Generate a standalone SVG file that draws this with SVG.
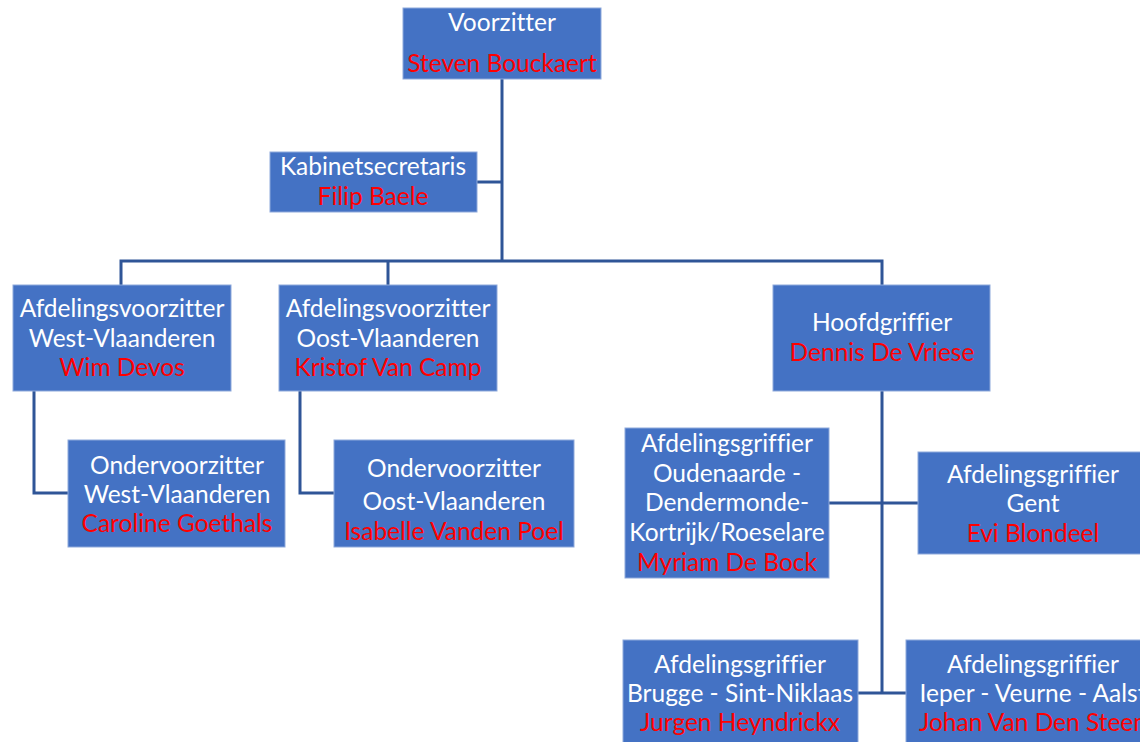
<svg xmlns="http://www.w3.org/2000/svg" width="1140" height="742" viewBox="0 0 1140 742">
<style>
.box{fill:#4472C4;stroke:#8EA9DB;stroke-width:1}
text{font-family:"Lato","Liberation Sans",sans-serif;font-size:24.5px;text-anchor:middle;font-variant-ligatures:none}
.t{fill:#FFFFFF}
.n{fill:#FF0000}
.c{fill:none;stroke:#2F5597;stroke-width:3}
</style>
<rect width="1140" height="742" fill="#FFFFFF"/>
<g id="connectors">
<path class="c" d="M502 79 V261"/>
<path class="c" d="M477 182 H502"/>
<path class="c" d="M121 285 V261 H882 V285"/>
<path class="c" d="M388 261 V285"/>
<path class="c" d="M34 391 V493 H68"/>
<path class="c" d="M300 391 V493 H334"/>
<path class="c" d="M882 391 V693"/>
<path class="c" d="M829 503 H918"/>
<path class="c" d="M858 693 H906"/>
</g>
<g id="voorzitter">
<rect class="box" x="403" y="8" width="198" height="71"/>
<text class="t" x="502" y="31">Voorzitter</text>
<text class="n" x="502" y="72">Steven Bouckaert</text>
</g>
<g id="kabinetsecretaris">
<rect class="box" x="270" y="152" width="207" height="60"/>
<text class="t" x="373" y="175">Kabinetsecretaris</text>
<text class="n" x="373" y="205">Filip Baele</text>
</g>
<g id="afd-west">
<rect class="box" x="13" y="285" width="218" height="106"/>
<text class="t" x="122" y="317">Afdelingsvoorzitter</text>
<text class="t" x="122" y="347">West-Vlaanderen</text>
<text class="n" x="122" y="376">Wim Devos</text>
</g>
<g id="afd-oost">
<rect class="box" x="279" y="285" width="218" height="106"/>
<text class="t" x="388" y="317">Afdelingsvoorzitter</text>
<text class="t" x="388" y="347">Oost-Vlaanderen</text>
<text class="n" x="388" y="376">Kristof Van Camp</text>
</g>
<g id="hoofdgriffier">
<rect class="box" x="773" y="285" width="217" height="106"/>
<text class="t" x="882" y="331">Hoofdgriffier</text>
<text class="n" x="882" y="361">Dennis De Vriese</text>
</g>
<g id="onder-west">
<rect class="box" x="68" y="440" width="217" height="107"/>
<text class="t" x="177" y="474">Ondervoorzitter</text>
<text class="t" x="177" y="503">West-Vlaanderen</text>
<text class="n" x="177" y="532">Caroline Goethals</text>
</g>
<g id="onder-oost">
<rect class="box" x="334" y="440" width="240" height="107"/>
<text class="t" x="454" y="477">Ondervoorzitter</text>
<text class="t" x="454" y="510">Oost-Vlaanderen</text>
<text class="n" x="454" y="540">Isabelle Vanden Poel</text>
</g>
<g id="griffier-oudenaarde">
<rect class="box" x="625" y="428" width="204" height="150"/>
<text class="t" x="727" y="452">Afdelingsgriffier</text>
<text class="t" x="727" y="482">Oudenaarde -</text>
<text class="t" x="727" y="511">Dendermonde-</text>
<text class="t" x="727" y="541">Kortrijk/Roeselare</text>
<text class="n" x="727" y="571">Myriam De Bock</text>
</g>
<g id="griffier-gent">
<rect class="box" x="918" y="452" width="240" height="102"/>
<text class="t" x="1033" y="483">Afdelingsgriffier</text>
<text class="t" x="1033" y="512">Gent</text>
<text class="n" x="1033" y="542">Evi Blondeel</text>
</g>
<g id="griffier-brugge">
<rect class="box" x="623" y="640" width="235" height="110"/>
<text class="t" x="740" y="673">Afdelingsgriffier</text>
<text class="t" x="740" y="702">Brugge - Sint-Niklaas</text>
<text class="n" x="740" y="731">Jurgen Heyndrickx</text>
</g>
<g id="griffier-ieper">
<rect class="box" x="906" y="640" width="260" height="110"/>
<text class="t" x="1033" y="673">Afdelingsgriffier</text>
<text class="t" x="1033" y="702">Ieper - Veurne - Aalst</text>
<text class="n" x="1033" y="731">Johan Van Den Steen</text>
</g>
</svg>
